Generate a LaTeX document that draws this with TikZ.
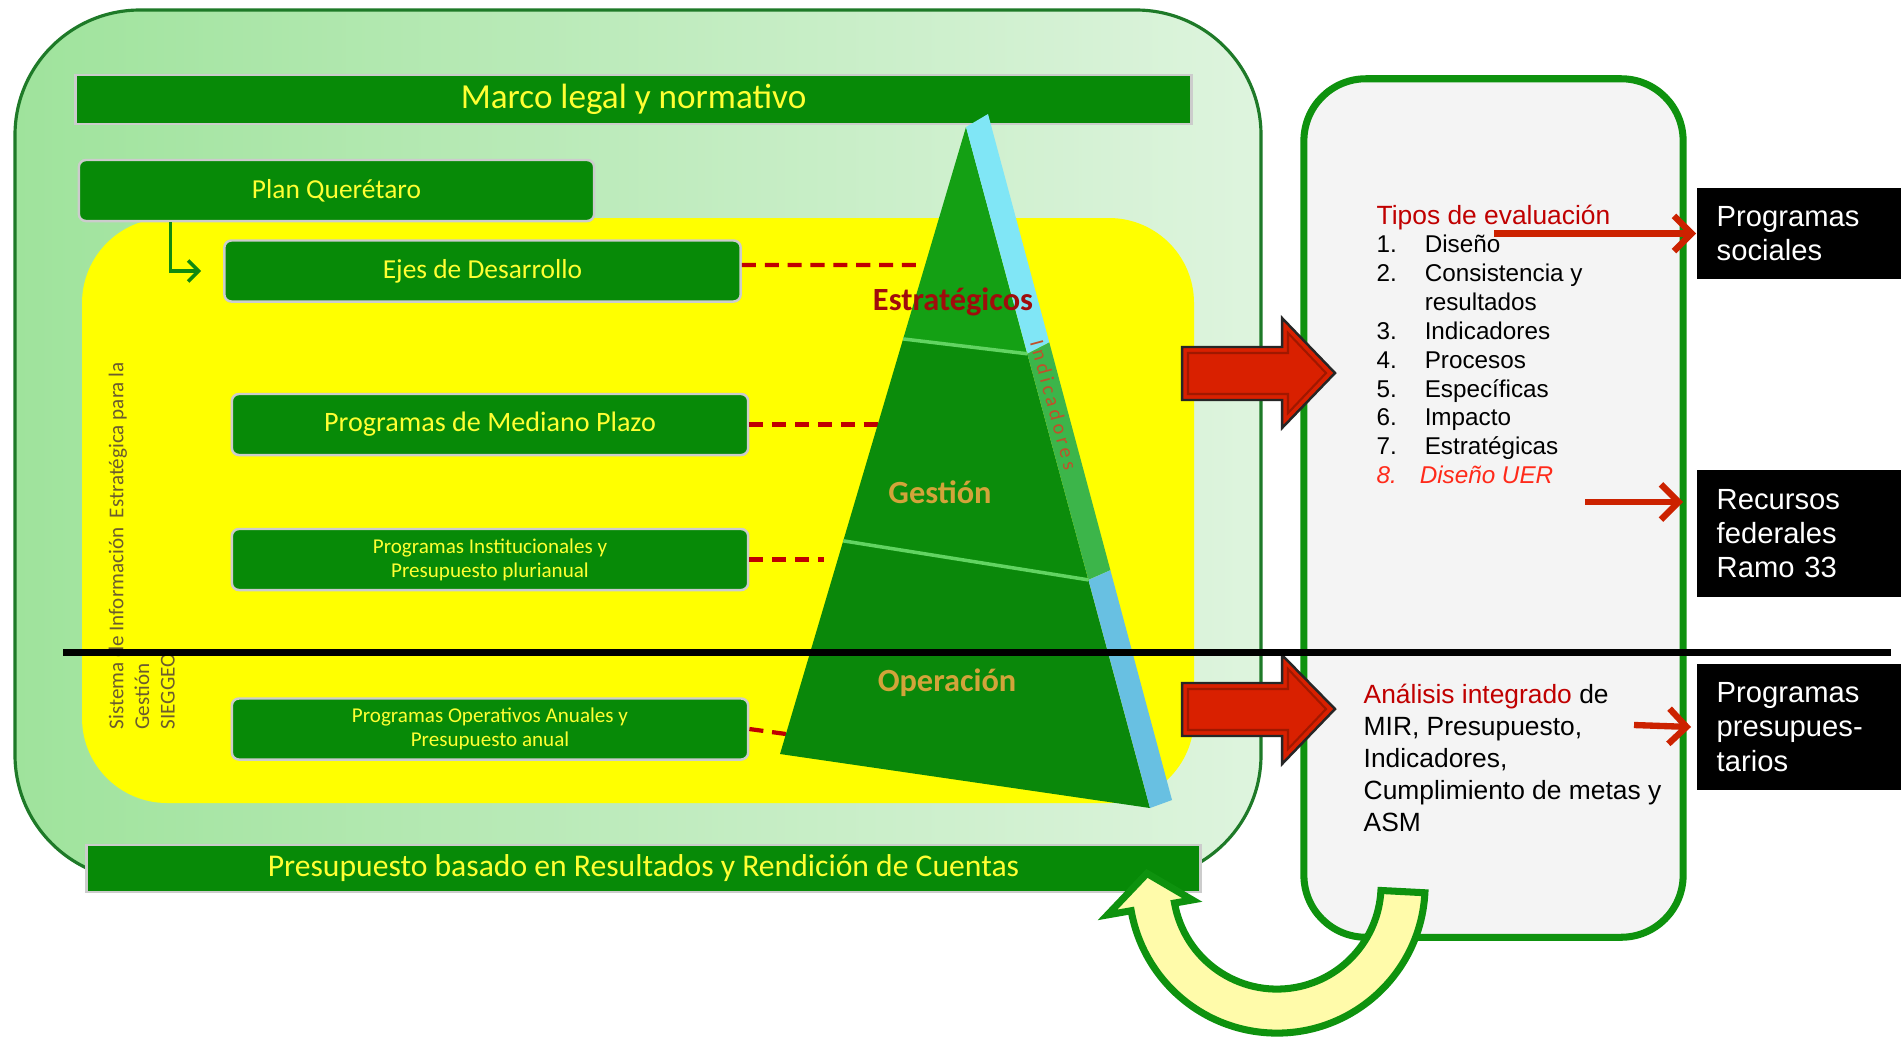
\documentclass[tikz,border=0pt]{standalone}
\usepackage{fontspec}
\setmainfont{Liberation Sans}
\newfontfamily\carlito{Carlito}
\newfontfamily\carlitowide[LetterSpace=18]{Carlito}
\usetikzlibrary{arrows.meta,calc}

\definecolor{bargreen}{HTML}{078A07}
\definecolor{bartext}{HTML}{FFFF33}
\definecolor{paleleft}{HTML}{9FE39C}
\definecolor{paleright}{HTML}{DEF4DE}
\definecolor{framegreen}{HTML}{1E7A28}
\definecolor{yell}{HTML}{FFFF00}
\definecolor{dashred}{HTML}{C00000}
\definecolor{flowgreen}{HTML}{108A10}
\definecolor{pyrtop}{HTML}{14A014}
\definecolor{pyrmid}{HTML}{0B8C0B}
\definecolor{pyrlow}{HTML}{0A880A}
\definecolor{stripcyan}{HTML}{80E6F6}
\definecolor{stripgreen}{HTML}{3CB54A}
\definecolor{stripblue}{HTML}{68C0E2}
\definecolor{dividergreen}{HTML}{62D462}
\definecolor{estrat}{HTML}{A00C0C}
\definecolor{labelgold}{HTML}{D2A43A}
\definecolor{indtext}{HTML}{C0502A}
\definecolor{siegtext}{HTML}{6B5C2E}
\definecolor{boxgreen}{HTML}{0E920E}
\definecolor{boxgray}{HTML}{F4F4F4}
\definecolor{arrowred}{HTML}{D92000}
\definecolor{bevelred}{HTML}{A01800}
\definecolor{linered}{HTML}{CC2200}
\definecolor{tiposred}{HTML}{C00000}
\definecolor{uerred}{HTML}{FF2A1A}
\definecolor{loopyellow}{HTML}{FFFBAA}

\begin{document}
\begin{tikzpicture}[x=0.01cm, y=-0.01cm,
		bar/.style={draw=gray!40, line width=0.7pt, fill=bargreen, text=bartext, rounded corners=2pt, inner sep=0pt, align=center},
		longbar/.style={bar, rounded corners=0pt},
		progbar/.style={bar, minimum width=5.16cm, minimum height=0.61cm},
		tier/.style={font=\carlito\bfseries\fontsize{9.2}{10}\selectfont, text=labelgold, inner sep=0pt},
		divider/.style={draw=dividergreen, line width=1pt},
		link/.style={draw=dashred, line width=1.2pt, dash pattern=on 4pt off 2.5pt},
		flow/.style={draw=flowgreen, line width=1pt, -{Straight Barb[length=3pt,width=6pt]}},
		panel/.style={draw=boxgreen, line width=2pt, fill=boxgray, rounded corners=0.62cm, minimum width=3.79cm, minimum height=8.58cm},
		blockarrow/.style={fill=arrowred, draw=black!85, line width=0.7pt, line join=miter},
		bevel/.style={draw=bevelred, line width=0.6pt, line join=miter},
		pointer/.style={draw=linered, line width=1.8pt, -{Straight Barb[length=5pt,width=10pt]}},
		darkbox/.style={fill=black, text=white, font=\fontsize{8.3}{9.7}\selectfont, align=left, text width=1.65cm, inner xsep=0.2cm, inner ysep=0pt, anchor=west},
		loop/.style={draw=boxgreen, line width=2pt, fill=loopyellow, line join=miter},
	]
	\useasboundingbox (0,0) rectangle (1901,1039);
	\fill[white] (0,0) rectangle (1901,1039);
	
	% Frame and background
	\draw[draw=framegreen, line width=0.9pt, left color=paleleft, right color=paleright, rounded corners=1.25cm] (15,10) rectangle (1261,880);
	\node[longbar, minimum width=11.15cm, minimum height=0.49cm, font=\carlito\fontsize{10}{12}\selectfont] (marco) at (633.5,99.5) {Marco legal y normativo};
	\fill[yell, rounded corners=0.85cm] (82,218) rectangle (1194,803);
	
	% Nodes
	\node[bar, minimum width=5.15cm, minimum height=0.61cm, font=\carlito\fontsize{7.8}{9}\selectfont] (plan) at (336.5,190.5) {Plan Querétaro};
	\node[progbar, font=\carlito\fontsize{7.8}{9}\selectfont] (ejes) at (482.5,271) {Ejes de Desarrollo};
	\node[progbar, font=\carlito\fontsize{8}{9}\selectfont] (mediano) at (490,424.5) {Programas de Mediano Plazo};
	\node[progbar, font=\carlito\fontsize{6}{6.8}\selectfont] (instit) at (490,559.5) {Programas Institucionales y\\Presupuesto plurianual};
	\node[progbar, font=\carlito\fontsize{6}{6.8}\selectfont] (operat) at (490,729) {Programas Operativos Anuales y\\Presupuesto anual};
	\node[longbar, minimum width=11.13cm, minimum height=0.47cm, font=\carlito\fontsize{9}{11}\selectfont] (pbr) at (643.5,868.5) {Presupuesto basado en Resultados y Rendición de Cuentas};
	
	\node[rotate=90, anchor=north west, align=left, inner sep=0pt, text=siegtext, font=\carlito\fontsize{6}{7.3}\selectfont] (siegeo) at (108,730) {Sistema de Información~ Estratégica para la\\Gestión\\SIEGGEO};
	
	% Pyramid
	\coordinate (A) at (966,127);
	\coordinate (L) at (780,754);
	\coordinate (R) at (1150,808);
	\coordinate (T) at (988,114);
	\coordinate (S) at (1172,800);
	\coordinate (P1) at ($(A)!0.338!(L)$);
	\coordinate (Q1) at ($(A)!0.333!(R)$);
	\coordinate (U1) at ($(T)!0.333!(S)$);
	\coordinate (P2) at ($(A)!0.66!(L)$);
	\coordinate (Q2) at ($(A)!0.665!(R)$);
	\coordinate (U2) at ($(T)!0.665!(S)$);
	
	\coordinate (d1) at (918,265);
	\coordinate (d2) at (878,424.5);
	\coordinate (d3) at (824,559.5);
	\coordinate (d4) at (786,734);
	\draw[link] ([yshift=0.06cm]ejes.east) -- (d1);
	\draw[link] (mediano.east) -- (d2);
	\draw[link] (instit.east) -- (d3);
	\draw[link] (operat.east) -- (d4);
	
	\fill[pyrtop] (A) -- (Q1) -- (P1) -- cycle;
	\fill[pyrmid] (P1) -- (Q1) -- (Q2) -- (P2) -- cycle;
	\fill[pyrlow] (P2) -- (Q2) -- (R) -- (L) -- cycle;
	\fill[stripcyan] (A) -- (T) -- (U1) -- (Q1) -- cycle;
	\fill[stripgreen] (Q1) -- (U1) -- (U2) -- (Q2) -- cycle;
	\fill[stripblue] (Q2) -- (U2) -- (S) -- (R) -- cycle;
	\draw[divider] (P1) -- (Q1);
	\draw[divider] (P2) -- (Q2);
	
	\node[tier, text=estrat] (estrat) at (953,302) {Estratégicos};
	\node[tier] (gestion) at (940,492) {Gestión};
	\node[tier] (operacion) at (947,683) {Operación};
	\node[rotate=-74.9, inner sep=0pt, text=indtext, font=\carlitowide\fontsize{5.8}{6}\selectfont] (indic) at (1054,405) {Indicadores};
	
	% Evaluation panel
	\node[panel] (panel) at (1493.5,508) {};
	
	\draw[blockarrow] (1182,347) -- (1282,347) -- (1282,318) -- (1335,373) -- (1282,428) -- (1282,400) -- (1182,400) -- cycle;
	\draw[bevel] (1188,353) -- (1288,353) -- (1288,333) -- (1326,373) -- (1288,413) -- (1288,394) -- (1188,394) -- cycle;
	\draw[blockarrow] (1182,683) -- (1282,683) -- (1282,655) -- (1335,709) -- (1282,764) -- (1282,736) -- (1182,736) -- cycle;
	\draw[bevel] (1188,689) -- (1288,689) -- (1288,669) -- (1326,709) -- (1288,749) -- (1288,730) -- (1188,730) -- cycle;
	
	\draw[line width=2pt] (63,652) -- (1891,652);
	
	\node[anchor=north west, align=left, inner sep=0pt, font=\fontsize{6.9}{8.2}\selectfont] (tipos) at (1376,204) {\textcolor{tiposred}{\fontsize{7.5}{8.2}\selectfont Tipos de evaluación}\\
		\makebox[0.48cm][l]{1.}Diseño\\
		\makebox[0.48cm][l]{2.}Consistencia y\\
		\hspace*{0.48cm}resultados\\
		\makebox[0.48cm][l]{3.}Indicadores\\
		\makebox[0.48cm][l]{4.}Procesos\\
		\makebox[0.48cm][l]{5.}Específicas\\
		\makebox[0.48cm][l]{6.}Impacto\\
		\makebox[0.48cm][l]{7.}Estratégicas\\
		{\color{uerred}\itshape\makebox[0.43cm][l]{8.}Diseño UER}};
	\node[anchor=north west, align=left, inner sep=0pt, font=\fontsize{7.5}{9.1}\selectfont] (analisis) at (1363,683) {\textcolor{tiposred}{Análisis integrado} de\\MIR, Presupuesto,\\Indicadores,\\Cumplimiento de metas y\\ASM};
	
	% Output boxes
	\node[darkbox, minimum height=0.91cm] (sociales) at (1696,233.5) {Programas\\sociales};
	\node[darkbox, minimum height=1.27cm] (recursos) at (1696,533.5) {Recursos\\federales\\Ramo 33};
	\node[darkbox, minimum height=1.26cm] (presup) at (1696,727) {Programas\\presupues-\\tarios};
	
	% Edges
	\draw[flow] ([xshift=0.93cm]plan.south west) |- ([xshift=-0.22cm]ejes.west);
	\coordinate (s1) at (1494,233.5);
	\coordinate (s2) at (1585,502);
	\coordinate (t2) at (1683,502);
	\coordinate (s3) at (1634,725);
	\draw[pointer] (s1) -- (sociales.west);
	\draw[pointer] (s2) -- (t2);
	\draw[pointer] (s3) -- ([xshift=-0.05cm]presup.west);
	
	% Feedback arrow
	\coordinate (O) at (1277,885);
	\draw[loop] ($(O)+(-3:1.48cm)$) arc[start angle=-3, end angle=-170, radius=1.48cm]
		-- ($(O)+(-170:1.72cm)$) -- ($(O)+(-170:1.26cm)+(100:0.34cm)$) -- ($(O)+(-170:0.86cm)$)
		-- ($(O)+(-170:1.04cm)$) arc[start angle=-170, end angle=-3, radius=1.04cm] -- cycle;
	
\end{tikzpicture}
\end{document}
